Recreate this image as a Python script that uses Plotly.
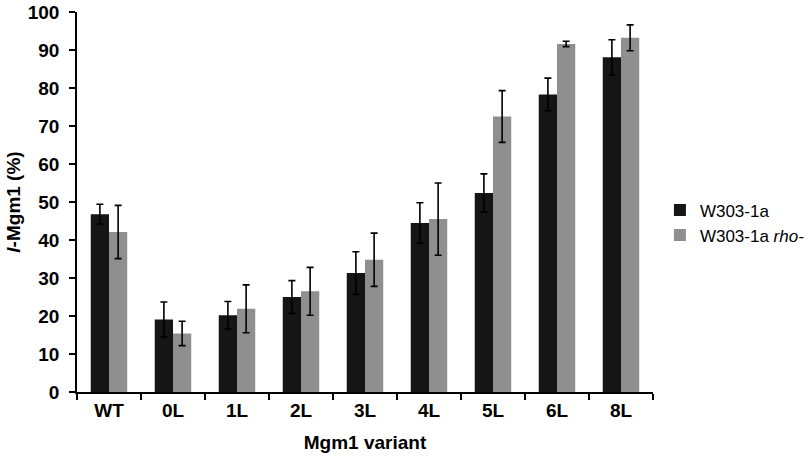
import plotly.graph_objects as go

categories = ["WT", "0L", "1L", "2L", "3L", "4L", "5L", "6L", "8L"]
w303 = [46.8, 19.1, 20.2, 25.0, 31.3, 44.5, 52.4, 78.3, 88.1]
w303_err = [2.6, 4.6, 3.6, 4.3, 5.6, 5.3, 5.0, 4.3, 4.6]
w303_rho = [42.1, 15.4, 21.9, 26.5, 34.8, 45.5, 72.5, 91.6, 93.2]
w303_rho_err = [7.0, 3.2, 6.3, 6.3, 7.0, 9.5, 6.8, 0.7, 3.4]
yticks = [0, 10, 20, 30, 40, 50, 60, 70, 80, 90, 100]

FONT = "Liberation Sans, Arial, Helvetica, sans-serif"

fig = go.Figure()
fig.add_trace(go.Bar(
    x=categories, y=w303, name="W303-1a",
    marker=dict(color="#151515", line=dict(width=0)),
    error_y=dict(type="data", array=w303_err, color="#000000", thickness=1.6, width=3.5),
))
fig.add_trace(go.Bar(
    x=categories, y=w303_rho, name="W303-1a <i>rho-</i>",
    marker=dict(color="#8f8f8f", line=dict(width=0)),
    error_y=dict(type="data", array=w303_rho_err, color="#000000", thickness=1.6, width=3.5),
))

fig.update_layout(
    width=812, height=461,
    margin=dict(l=77, r=159, t=12, b=69, autoexpand=False),
    paper_bgcolor="white", plot_bgcolor="white",
    barmode="group", bargap=0.43, bargroupgap=0,
    font=dict(family=FONT, color="#000000"),
    showlegend=True,
    legend=dict(x=1.012, y=0.445, xanchor="left", yanchor="middle",
                font=dict(size=17, family=FONT), tracegroupgap=0,
                itemwidth=30, bgcolor="rgba(0,0,0,0)"),
    xaxis=dict(
        automargin=False,
        showline=True, linecolor="#000000", linewidth=1.5,
        ticks="outside", tickson="boundaries", ticklen=6, tickwidth=1.5, tickcolor="#000000",
        tickfont=dict(size=19, family=FONT, weight="bold"),
        title=dict(text="<b>Mgm1 variant</b>", font=dict(size=19, family=FONT), standoff=16),
        showgrid=False, zeroline=False,
    ),
    yaxis=dict(
        automargin=False,
        range=[0, 100], tickvals=yticks,
        showline=True, linecolor="#000000", linewidth=1.5,
        ticks="outside", ticklen=6, tickwidth=1.5, tickcolor="#000000",
        ticklabelstandoff=6,
        tickfont=dict(size=19, family=FONT, weight="bold"),
        title=dict(text="<b><i>l</i>-Mgm1 (%)</b>", font=dict(size=19, family=FONT), standoff=2),
        showgrid=False, zeroline=False,
    ),
)

fig.write_html(
    "out.html",
    config={"displayModeBar": False},
    post_script="document.body.style.margin='0';document.body.style.padding='0';",
)
